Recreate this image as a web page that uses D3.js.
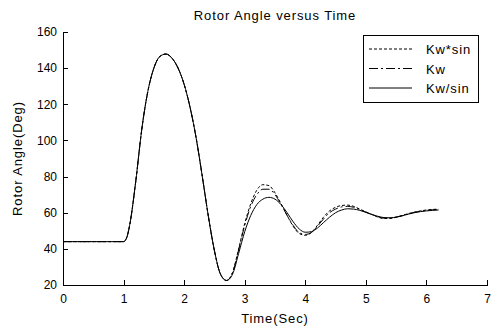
<!DOCTYPE html>
<html><head><meta charset="utf-8">
<script src="https://cdn.jsdelivr.net/npm/d3@7"></script>
<style>body{margin:0;background:#fff}svg{display:block}text{font-family:"Liberation Sans",Arial,sans-serif;font-size:12px;fill:#000}.lab{font-size:13px;letter-spacing:0.9px}</style>
</head><body><svg id="c" width="491" height="333"></svg>
<script>
const title = "Rotor Angle versus Time";
const xLabel = "Time(Sec)";
const yLabel = "Rotor Angle(Deg)";
const xTicks = [0,1,2,3,4,5,6,7];
const yTicks = [20,40,60,80,100,120,140,160];
const seriesNames = ["Kw*sin","Kw","Kw/sin"];

const time = [0,1.0,1.05,1.1,1.2,1.3,1.4,1.5,1.6,1.7,1.8,1.9,2.0,2.1,2.2,2.3,2.4,2.5,2.6,2.7,2.8,2.9,3.0,3.1,3.2,3.3,3.4,3.5,3.6,3.7,3.8,3.9,4.0,4.1,4.2,4.3,4.4,4.5,4.6,4.7,4.8,4.9,5.0,5.1,5.2,5.3,5.4,5.5,5.6,5.7,5.8,5.9,6.0,6.1,6.2];
const common = [44,44,46,53,77,106,127,140,146.5,147.8,145.5,140,131,118,101,80,58,39,26,22.5];
const kwSin = common.concat([27,40,54,65,72.5,75.5,75,71,65,58.5,52.5,48.5,47.5,49,53,57.5,61,63,64,64.2,63.5,62,60.5,59,57.5,56.8,56.8,57.5,58.5,59.5,60.3,61,61.5,61.8,62]);
const kw = common.concat([27,39.5,53,63.5,70,73,73,70,64.5,58.5,53,49,48,49,52.5,56.5,60,62,63.2,63.5,63,61.8,60.3,59,57.8,57,57,57.5,58.3,59.3,60.2,60.8,61.3,61.6,61.8]);
const kwDivSin = common.concat([26,37.5,49.5,58.5,64.5,67.5,68.5,67.5,64.5,60,55,51,49.2,49.5,51.5,54.5,57.5,60,61.5,62.2,62,61.3,60.2,59,58,57.3,57.2,57.6,58.3,59.2,60,60.6,61,61.3,61.5]);

const styles = ["3,2","9,3,2,3",null];
const series = [kwSin, kw, kwDivSin];

const svg = d3.select("#c");
const L=63,R=487,T=32,B=285;
const x = d3.scaleLinear().domain([0,7]).range([L,R]);
const y = d3.scaleLinear().domain([20,160]).range([B,T]);

const xa = svg.append("g").attr("transform",`translate(0,${B})`)
  .call(d3.axisBottom(x).tickValues(xTicks).tickSizeInner(-5).tickSizeOuter(0).tickPadding(9).tickFormat(d3.format("d")));
const ya = svg.append("g").attr("transform",`translate(${L},0)`)
  .call(d3.axisLeft(y).tickValues(yTicks).tickSizeInner(-5).tickSizeOuter(0).tickPadding(6).tickFormat(d3.format("d")));
[xa,ya].forEach(g=>{g.selectAll("path,line").attr("stroke","#000").attr("shape-rendering","crispEdges");g.selectAll("text").style("font-size","12px").attr("fill","#000");g.attr("font-family",null).attr("font-size",null);});

const line = d3.line().x((d,i)=>x(time[i])).y(d=>y(d)).curve(d3.curveMonotoneX);
series.forEach((s,k)=>{
  svg.append("path").attr("d",line(s)).attr("fill","none").attr("stroke","#000").attr("stroke-width",1)
    .attr("stroke-dasharray",styles[k]);
});

svg.append("text").attr("class","lab").attr("x",(L+R)/2).attr("y",20).attr("text-anchor","middle").text(title);
svg.append("text").attr("class","lab").attr("x",(L+R)/2).attr("y",323).attr("text-anchor","middle").text(xLabel);
svg.append("text").attr("class","lab").attr("transform",`translate(22,${(T+B)/2}) rotate(-90)`).attr("text-anchor","middle").text(yLabel);

const lg = svg.append("g");
lg.append("rect").attr("x",363.5).attr("y",35.5).attr("width",115).attr("height",67).attr("fill","#fff").attr("stroke","#000");
seriesNames.forEach((n,k)=>{
  const yy = 49+k*19.5;
  lg.append("line").attr("x1",369).attr("x2",412).attr("y1",yy).attr("y2",yy).attr("stroke","#000").attr("stroke-dasharray",styles[k]);
  lg.append("text").attr("class","lab").attr("x",426).attr("y",yy+5).text(n);
});
</script></body></html>
